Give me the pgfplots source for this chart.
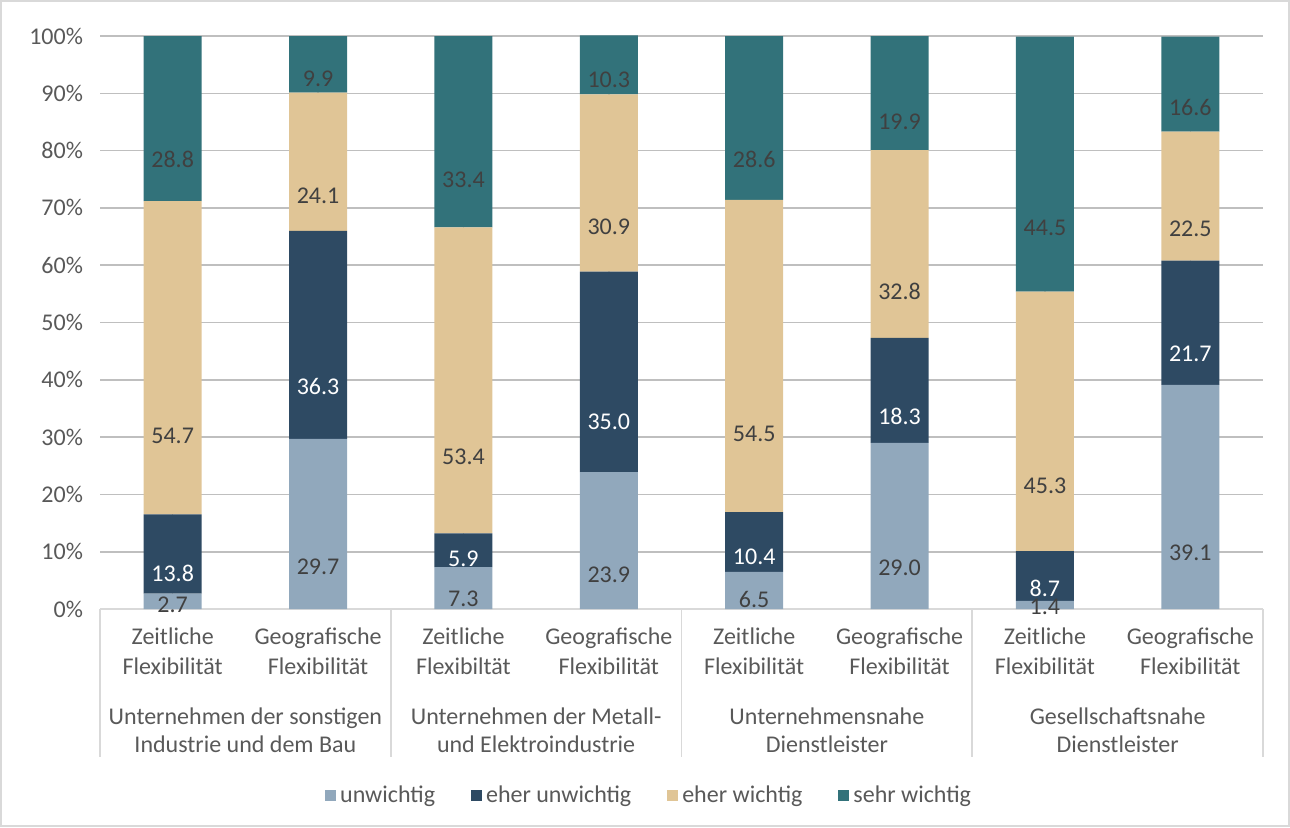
\documentclass[border=0pt]{standalone}
\usepackage{fontspec}
\setmainfont{Carlito}
\usepackage{pgfplots}
\pgfplotsset{compat=1.18}
\definecolor{cA}{RGB}{145,168,188}
\definecolor{cB}{RGB}{46,74,99}
\definecolor{cC}{RGB}{224,197,150}
\definecolor{cD}{RGB}{50,114,122}
\definecolor{tgray}{RGB}{89,89,89}
\definecolor{lgray}{RGB}{64,64,64}
\definecolor{grid}{RGB}{217,217,217}
\tikzset{grplabel/.style={align=center, text=tgray, font=\fontsize{12}{14}\selectfont, anchor=center, yshift=-60.5pt}}
\begin{document}
\begin{tikzpicture}
\path[use as bounding box] (0,0) rectangle (645pt,413.5pt);
\draw[grid, line width=0.8pt] (0.5pt,0.5pt) rectangle (644.5pt,413pt);
\begin{axis}[
  at={(50pt,109pt)}, anchor=south west,
  width=581.5pt, height=286.5pt, scale only axis,
  ybar stacked, bar width=29pt,
  xmin=-0.5, xmax=7.5, ymin=0, ymax=100,
  clip=false,
  xtick={0,...,7},
  xticklabels={{Zeitliche\\Flexibilität},{Geografische\\Flexibilität},{Zeitliche\\Flexibiltät},{Geografische\\Flexibilität},{Zeitliche\\Flexibilität},{Geografische\\Flexibilität},{Zeitliche\\Flexibilität},{Geografische\\Flexibilität}},
  xticklabel style={align=center, text=tgray, font=\fontsize{12}{15}\selectfont, yshift=-6pt},
  major x tick style={draw=none},
  ytick={0,10,...,100},
  yticklabel={\pgfmathprintnumber{\tick}\%},
  /pgf/number format/assume math mode=true,
  yticklabel style={text=tgray, font=\fontsize{12}{13}\selectfont, xshift=-5pt},
  major y tick style={draw=none},
  ymajorgrids, grid style={grid, line width=0.8pt},
  axis x line*=bottom, axis y line*=left,
  x axis line style={grid, line width=0.8pt, -},
  y axis line style={draw=none},
  point meta=rawy,
  visualization depends on=rawy \as \rawy,
  nodes near coords={\pgfmathprintnumber[fixed,fixed zerofill,precision=1]{\pgfplotspointmeta}},
  every node near coord/.append style={anchor=center, font=\fontsize{12}{13}\selectfont, text=lgray, shift={(axis direction cs:0,-\rawy/4)}},
  legend columns=4,
  legend style={at={(0.473,-0.326)}, anchor=center, draw=none, font=\fontsize{12}{13}\selectfont, text=tgray,
    /tikz/every even column/.append style={column sep=16pt}},
  legend image code/.code={\fill[#1] (0pt,-2.75pt) rectangle (5.5pt,2.75pt);},
]
\addplot[fill=cA, draw=none] coordinates {(0,2.7) (1,29.7) (2,7.3) (3,23.9) (4,6.5) (5,29.0) (6,1.4) (7,39.1)};
\addlegendentry{unwichtig}
\addplot[fill=cB, draw=none, every node near coord/.append style={text=white}] coordinates {(0,13.8) (1,36.3) (2,5.9) (3,35.0) (4,10.4) (5,18.3) (6,8.7) (7,21.7)};
\addlegendentry{eher unwichtig}
\addplot[fill=cC, draw=none] coordinates {(0,54.7) (1,24.1) (2,53.4) (3,30.9) (4,54.5) (5,32.8) (6,45.3) (7,22.5)};
\addlegendentry{eher wichtig}
\addplot[fill=cD, draw=none] coordinates {(0,28.8) (1,9.9) (2,33.4) (3,10.3) (4,28.6) (5,19.9) (6,44.5) (7,16.6)};
\addlegendentry{sehr wichtig}
\draw[grid, line width=0.8pt] (axis cs:-0.5,0) -- ++(0pt,-74pt);
\draw[grid, line width=0.8pt] (axis cs:1.5,0) -- ++(0pt,-74pt);
\draw[grid, line width=0.8pt] (axis cs:3.5,0) -- ++(0pt,-74pt);
\draw[grid, line width=0.8pt] (axis cs:5.5,0) -- ++(0pt,-74pt);
\draw[grid, line width=0.8pt] (axis cs:7.5,0) -- ++(0pt,-74pt);
\node[grplabel] at (axis cs:0.5,0) {Unternehmen der sonstigen\\Industrie und dem Bau};
\node[grplabel] at (axis cs:2.5,0) {Unternehmen der Metall-\\und Elektroindustrie};
\node[grplabel] at (axis cs:4.5,0) {Unternehmensnahe\\Dienstleister};
\node[grplabel] at (axis cs:6.5,0) {Gesellschaftsnahe\\Dienstleister};
\end{axis}
\end{tikzpicture}
\end{document}
